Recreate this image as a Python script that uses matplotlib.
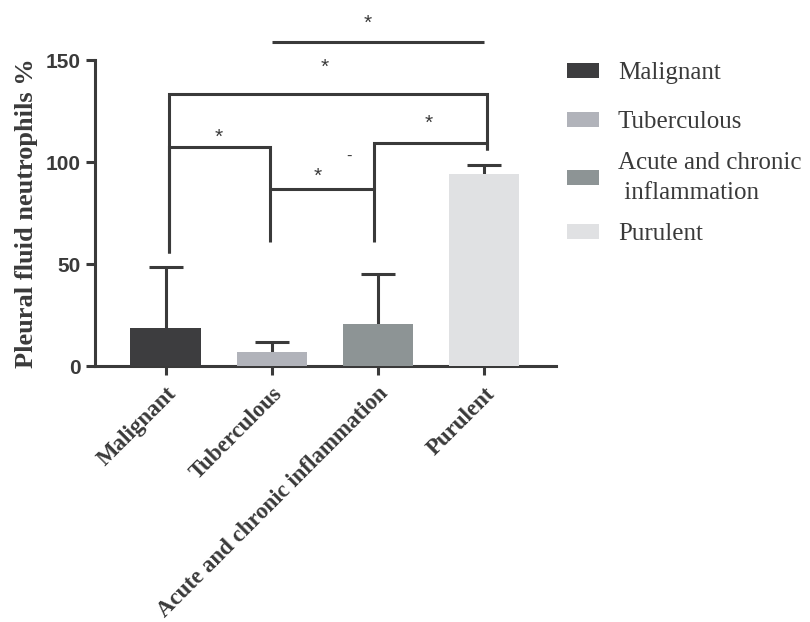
import matplotlib
matplotlib.use("Agg")
from matplotlib import pyplot as plt
from matplotlib.patches import Patch
import numpy as np

# data
groups = ['Malignant', 'Tuberculous', 'Acute and chronic inflammation', 'Purulent']
legend_labels = ['Malignant', 'Tuberculous', 'Acute and chronic\n inflammation', 'Purulent']
means = [18.6, 6.9, 20.6, 94.1]
sd_up = [29.9, 4.9, 24.5, 4.4]
colors = ['#3d3d3f', '#b1b3ba', '#8d9495', '#e0e1e3']

# significance brackets: (x_left, x_right, y_bar, y_left_end, y_right_end)
brackets = [
    (0.03, 0.98, 107.4, 55.4, 60.8),
    (0.03, 3.03, 133.3, 55.4, 105.9),
    (0.97, 1.96, 86.8, 86.8, 60.8),
    (1.96, 3.03, 109.3, 86.8, 105.9),
    (1.00, 3.00, 158.8, 158.8, 158.8),
]
star_x = [0.50, 1.50, 1.43, 2.48, 1.90]
star_y = [112.0, 146.5, 93.0, 119.0, 168.0]
star_txt = ['*', '*', '*', '*', '*']
dash_pos = (1.73, 103.0)

ink = '#3a3a3a'
serif = ['Liberation Serif', 'DejaVu Serif']
sans = ['Liberation Sans', 'DejaVu Sans']

fig = plt.figure(figsize=(8.1, 6.22), dpi=100)
ax = fig.add_axes([95 / 810, 1 - 366 / 622, 461 / 810, 306 / 622])

x = np.arange(len(groups))
tops = np.array(means) + np.array(sd_up)
ax.bar(x, means, width=0.66, color=colors, zorder=3)
ax.vlines(x, means, tops, color=ink, lw=2.2, zorder=2)
ax.hlines(tops, x - 0.16, x + 0.16, color=ink, lw=2.2, zorder=2)

for xl, xr, yb, yl, yr in brackets:
    ax.plot([xl, xl, xr, xr], [yl, yb, yb, yr], color=ink, lw=2.2,
            clip_on=False, solid_capstyle='butt', solid_joinstyle='miter')
for sx, sy, t in zip(star_x, star_y, star_txt):
    ax.text(sx, sy, t, ha='center', va='center', fontsize=15, color=ink,
            family=sans, clip_on=False)
ax.text(dash_pos[0], dash_pos[1], '-', ha='center', va='center', fontsize=12,
        color=ink, family=sans)

ax.set_xlim(-0.664, 3.677)
ax.set_ylim(0, 150)
ax.set_yticks([0, 50, 100, 150])
ax.set_xticks(x)
ax.set_xticklabels(groups, rotation=45, ha='right', va='top',
                   rotation_mode='anchor', fontsize=16.5, fontweight='bold',
                   family=serif, color=ink)
for lab in ax.get_yticklabels():
    lab.set_family(sans)
    lab.set_fontweight('bold')
    lab.set_fontsize(15)
    lab.set_color(ink)

ax.spines['top'].set_visible(False)
ax.spines['right'].set_visible(False)
for s in ['left', 'bottom']:
    ax.spines[s].set_linewidth(2.2)
    ax.spines[s].set_color(ink)
ax.tick_params(width=2.2, length=6.5, color=ink)
ax.tick_params(axis='x', pad=6)

ax.set_ylabel('Pleural fluid neutrophils %', fontsize=19, fontweight='bold',
              family=serif, color=ink, labelpad=6)

# legend: one entry per block so the two-line label keeps its own spacing
legend_rows = [73, 122, 178, 234]
for c, lab, yc in zip(colors, legend_labels, legend_rows):
    leg = fig.legend([Patch(facecolor=c, edgecolor='none')], [lab],
                     loc='center left',
                     bbox_to_anchor=(567 / 810, 1 - yc / 622), frameon=False,
                     borderpad=0, borderaxespad=0,
                     prop={'family': serif, 'size': 18}, handlelength=1.28,
                     handleheight=0.56, handletextpad=0.76, labelcolor=ink)
    leg.get_texts()[0].set_linespacing(1.45)

fig.savefig('out.png', dpi=100)
